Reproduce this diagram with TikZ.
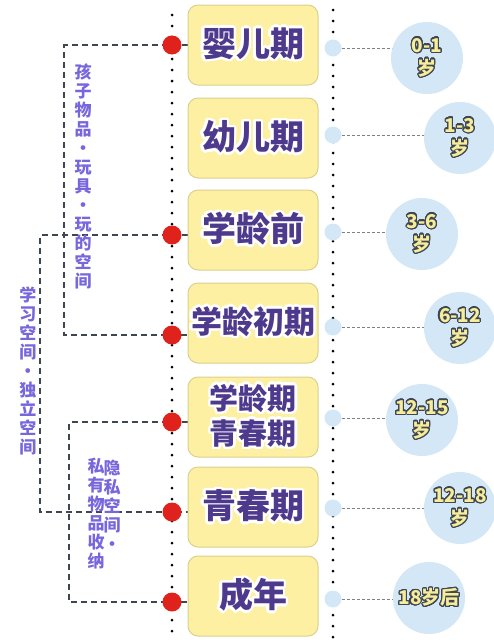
\documentclass[tikz,border=0pt]{standalone}
\usepackage{fontspec}
\newfontfamily\cjk{Noto Sans CJK SC}
\usepackage[copies]{contour}
\contournumber{24}
\usetikzlibrary{backgrounds}
\definecolor{stageyellow}{HTML}{FDF0A2}
\definecolor{stageedge}{HTML}{DCD08E}
\definecolor{stagepurple}{HTML}{4E3A8C}
\definecolor{sidepurple}{HTML}{7867DC}
\definecolor{dotred}{HTML}{E0221C}
\definecolor{agesky}{HTML}{D4E7F7}
\definecolor{agetext}{HTML}{F6EC9A}
\definecolor{bracketgray}{HTML}{3E4652}
\newcommand{\wline}[1]{\contourlength{2.5pt}\contour{white}{#1}}
\newcommand{\dline}[1]{\contourlength{1.1pt}\contour{bracketgray}{#1}}

\tikzset{
  stagebox/.style={draw=stageedge,fill=stageyellow,rounded corners=10pt,line width=1pt,
    minimum width=130pt,minimum height=80pt,inner sep=0pt,align=center,text=stagepurple},
  reddot/.style={circle,fill=dotred,minimum size=19pt,inner sep=0pt},
  bluedot/.style={circle,fill=agesky,minimum size=17pt,inner sep=0pt},
  agecircle/.style={circle,fill=agesky,minimum size=72pt,inner sep=0pt,align=center,
    text=agetext,font=\cjk\bfseries\fontsize{19}{23}\selectfont},
  bracketline/.style={draw=bracketgray,line width=1.3pt,dash pattern=on 6pt off 4pt},
  agelink/.style={draw=gray,line width=0.9pt,dash pattern=on 3pt off 2pt},
  beadline/.style={line width=3pt,line cap=round,dash pattern=on 0pt off 11pt},
  sidetext/.style={text=sidepurple,align=center,inner sep=0pt,
    font=\cjk\bfseries\fontsize{17}{19}\selectfont}
}

\begin{document}
\begin{tikzpicture}[x=1pt,y=-1pt]
  \useasboundingbox (0,0) rectangle (494,640);
  \draw[beadline] (172,15) -- (172,640);
  \draw[beadline] (333,10) -- (333,640);

  % stages
  \foreach \i/\yy/\fs/\txt in {1/45/34/{\wline{婴儿期}},2/138/34/{\wline{幼儿期}},
      3/230/34/{\wline{学龄前}},4/323/31/{\wline{学龄初期}},
      5/417/29/{\wline{学龄期}\\\wline{青春期}},6/507/34/{\wline{青春期}},7/596/34/{\wline{成年}}}{
    \node[stagebox,font=\cjk\bfseries\fontsize{\fs}{35}\selectfont] (b\i) at (253,\yy) {\txt};
  }
  \foreach \i/\yy in {1/45,3/235,4/335,5/422,6/512,7/602}
    \node[reddot] (r\i) at (172,\yy) {};
  \foreach \i/\yy in {1/48,2/135,3/232,4/327,5/418,6/508,7/599}
    \node[bluedot] (d\i) at (333,\yy) {};

  % ages
  \foreach \i/\cx/\cy/\txt in {1/427/58/{\dline{0-1}\\\dline{岁}},2/460/138/{\dline{1-3}\\\dline{岁}},
      3/422/234/{\dline{3-6}\\\dline{岁}},4/460/328/{\dline{6-12}\\\dline{岁}},
      5/422/420/{\dline{12-15}\\\dline{岁}},6/460/508/{\dline{12-18}\\\dline{岁}},
      7/429/598/{\dline{18岁后}}}{
    \node[agecircle] (c\i) at (\cx,\cy) {\txt};
  }

  % spaces
  \coordinate (ka) at (64,45);
  \coordinate (kb) at (40,235);
  \coordinate (kc) at (69,422);
  \node[sidetext] (sa) at (83,176) {孩\\子\\物\\品\\·\\玩\\具\\·\\玩\\的\\空\\间};
  \node[sidetext] (sb) at (28,371) {学\\习\\空\\间\\·\\独\\立\\空\\间};
  \node[sidetext] (sc) at (112,505) {隐\\私\\空\\间\\·};
  \node[sidetext] (sd) at (96,514) {私\\有\\物\\品\\收\\纳};

  \begin{scope}[on background layer]
    \draw[bracketline] (r1 -| b1.west) -- (ka) |- (r4 -| b4.west);
    \draw[bracketline] (r3 -| b3.west) -- (kb) |- (r6 -| b6.west);
    \draw[bracketline] (r5 -| b5.west) -- (kc) |- (r7 -| b7.west);
    \foreach \i in {1,...,7}
      \draw[agelink] (d\i) -- (d\i -| c\i);
  \end{scope}
\end{tikzpicture}
\end{document}
